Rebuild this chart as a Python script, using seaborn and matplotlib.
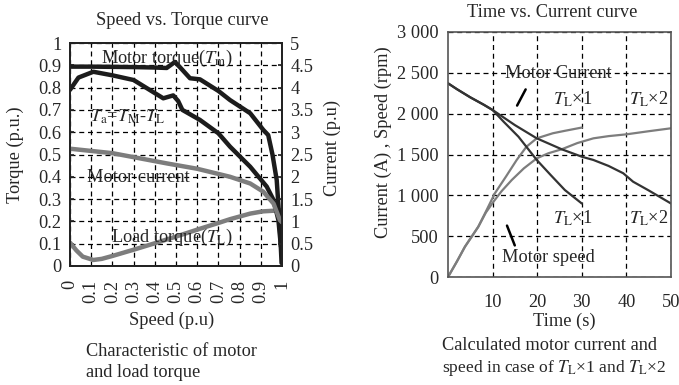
import numpy as np
import matplotlib
matplotlib.use("Agg")
import matplotlib.pyplot as plt
import seaborn as sns

# Left chart: speed vs torque / current (p.u.)
speed_tm = [0, 0.1, 0.2, 0.3, 0.4, 0.456, 0.495, 0.52, 0.566, 0.613, 0.7, 0.755,
            0.85, 0.912, 0.935, 0.955, 0.975, 0.99, 0.998]
torque_tm = [0.894, 0.894, 0.893, 0.892, 0.89, 0.888, 0.915, 0.89, 0.842, 0.837, 0.785,
             0.744, 0.685, 0.61, 0.587, 0.5, 0.386, 0.176, 0.013]

speed_ta = [0, 0.04, 0.11, 0.2, 0.3, 0.44, 0.487, 0.51, 0.53, 0.613, 0.7, 0.755,
            0.85, 0.928, 0.96, 0.983, 0.995]
torque_ta = [0.79, 0.845, 0.871, 0.855, 0.834, 0.752, 0.765, 0.74, 0.70, 0.655, 0.595,
             0.535, 0.445, 0.356, 0.296, 0.206, 0.087]

speed_cur = [0, 0.2, 0.457, 0.6, 0.755, 0.85, 0.912, 0.96, 0.99, 1.0]
current_pu = [2.63, 2.53, 2.3, 2.18, 2.0, 1.85, 1.665, 1.4, 1.03, 0.98]

speed_tl = [0, 0.03, 0.06, 0.11, 0.15, 0.2, 0.3, 0.4, 0.5, 0.613, 0.7, 0.755, 0.85, 0.91, 1.0]
torque_tl = [0.105, 0.07, 0.042, 0.027, 0.032, 0.045, 0.073, 0.102, 0.132, 0.167, 0.193,
             0.21, 0.235, 0.245, 0.25]

# Right chart: time vs current / speed
time_cur1 = [0, 2, 5, 8, 10, 12.5, 15.8, 19.9, 23, 26.2, 30]
cur1 = [2372, 2300, 2200, 2110, 2045, 1900, 1718, 1433, 1250, 1065, 900]
time_cur2 = [0, 2, 5, 8, 10, 15, 19.9, 25.5, 30, 32.6, 36, 39.3, 41.5, 45, 50]
cur2 = [2372, 2300, 2200, 2110, 2045, 1860, 1698, 1564, 1473, 1433, 1360, 1270, 1167, 1060, 900]

time_spd1 = [0, 2, 3.8, 6.8, 8.3, 10.5, 13, 15.4, 17.6, 19.9, 23.5, 26.2, 30]
spd1 = [0, 190, 371, 616, 780, 1024, 1230, 1433, 1596, 1698, 1760, 1790, 1830]
time_spd2 = [0, 2, 3.8, 6.8, 8.5, 10.2, 12, 14.3, 17, 19.9, 22.5, 25.5, 29, 32.6, 36, 40, 45, 50]
spd2 = [0, 190, 371, 616, 790, 922, 1050, 1188, 1330, 1453, 1515, 1564, 1640, 1698, 1725,
        1747, 1785, 1821]

sns.set_theme(style="white")
plt.rcParams['font.family'] = ['Liberation Serif', 'DejaVu Serif']
plt.rcParams['mathtext.fontset'] = 'stix'
FS = 13.2

W, H = 679, 385
fig = plt.figure(figsize=(W / 100, H / 100), dpi=100)


def pos(x, y):
    return x / W, 1 - y / H


dash = (0, (4, 3))
black = '#1c1c1c'
gray = '#7d7d7d'

# ---------------- left chart ----------------
ax1 = fig.add_axes([70 / W, 1 - 266 / H, 212 / W, 223 / H])
ax1.set_xlim(0, 1)
ax1.set_ylim(0, 1)
ax1.set_xticks(np.arange(0, 1.01, 0.1))
ax1.set_xticklabels(['{:g}'.format(round(v, 1)) for v in np.arange(0, 1.01, 0.1)], rotation=90)
ax1.set_yticks(np.arange(0, 1.01, 0.1))
ax1.set_yticklabels(['{:g}'.format(round(v, 1)) for v in np.arange(0, 1.01, 0.1)])
ax1.grid(True, linestyle=dash, color='black', linewidth=0.9)
ax1.tick_params(direction='in', length=3, labelsize=FS, pad=6)
ax1.tick_params(axis='x', pad=10)
for s in ax1.spines.values():
    s.set_color('#222222')
    s.set_linewidth(1.3)

sns.lineplot(x=speed_tl, y=torque_tl, ax=ax1, color=gray, linewidth=3.2, sort=False, estimator=None)
sns.lineplot(x=speed_ta, y=torque_ta, ax=ax1, color=black, linewidth=3.2, sort=False, estimator=None)
sns.lineplot(x=speed_tm, y=torque_tm, ax=ax1, color=black, linewidth=3.2, sort=False, estimator=None)
ax1.set_xlabel('')
ax1.set_ylabel('')

ax1b = ax1.twinx()
ax1b.set_ylim(0, 5)
ax1b.set_yticks(np.arange(0, 5.01, 0.5))
ax1b.set_yticklabels(['{:g}'.format(v) for v in np.arange(0, 5.01, 0.5)])
ax1b.tick_params(direction='in', length=3, labelsize=FS, pad=6)
ax1b.grid(False)
sns.lineplot(x=speed_cur, y=current_pu, ax=ax1b, color=gray, linewidth=3.2, sort=False, estimator=None)
ax1b.set_ylabel('')
for s in ax1b.spines.values():
    s.set_color('#222222')
    s.set_linewidth(1.3)

ax1.text(0.458, 0.93, r'Motor torque($T_\mathrm{m}$)', fontsize=FS, ha='center', va='center')
ax1.text(0.274, 0.668, r'$T_\mathrm{a}$=$T_\mathrm{M}$-$T_\mathrm{L}$', fontsize=FS, ha='center', va='center')
ax1.text(0.322, 0.395, 'Motor current', fontsize=FS, ha='center', va='center')
ax1.text(0.48, 0.128, r'Load torque($T_\mathrm{L}$)', fontsize=FS, ha='center', va='center')

fig.text(*pos(182, 25), 'Speed vs. Torque curve', fontsize=FS, ha='center', va='baseline')
fig.text(*pos(15, 155), 'Torque (p.u.)', fontsize=FS, ha='center', va='center', rotation=90)
fig.text(*pos(332, 148), 'Current (p.u)', fontsize=FS, ha='center', va='center', rotation=90)
fig.text(*pos(172, 325), 'Speed (p.u)', fontsize=FS, ha='center', va='baseline')
fig.text(*pos(86, 356), 'Characteristic of motor', fontsize=FS, ha='left', va='baseline')
fig.text(*pos(86, 377), 'and load torque', fontsize=FS, ha='left', va='baseline')

# ---------------- right chart ----------------
ax2 = fig.add_axes([448 / W, 1 - 277 / H, 223 / W, 245 / H])
ax2.set_xlim(0, 50)
ax2.set_ylim(0, 3000)
ax2.set_xticks([10, 20, 30, 40, 50])
ax2.set_yticks(np.arange(0, 3001, 500))
ax2.set_yticklabels(['{:,}'.format(v).replace(',', ' ') for v in range(0, 3001, 500)])
ax2.grid(True, linestyle=dash, color='black', linewidth=0.9)
ax2.tick_params(direction='in', length=3, labelsize=FS, pad=7)
ax2.tick_params(axis='x', pad=12)
for s in ax2.spines.values():
    s.set_color('#555555')
    s.set_linewidth(1.2)

sns.lineplot(x=time_spd1, y=spd1, ax=ax2, color=gray, linewidth=1.6, sort=False, estimator=None)
sns.lineplot(x=time_spd2, y=spd2, ax=ax2, color=gray, linewidth=1.6, sort=False, estimator=None)
sns.lineplot(x=time_cur1, y=cur1, ax=ax2, color='#333333', linewidth=1.6, sort=False, estimator=None)
sns.lineplot(x=time_cur2, y=cur2, ax=ax2, color='#333333', linewidth=1.6, sort=False, estimator=None)
ax2.set_xlabel('')
ax2.set_ylabel('')

ax2.text(24.7, 2486, 'Motor Current', fontsize=FS, ha='center', va='center')
ax2.text(28.0, 2180, r'$T_\mathrm{L}$×1', fontsize=FS, ha='center', va='center')
ax2.text(45.1, 2180, r'$T_\mathrm{L}$×2', fontsize=FS, ha='center', va='center')
ax2.text(28.0, 722, r'$T_\mathrm{L}$×1', fontsize=FS, ha='center', va='center')
ax2.text(45.1, 722, r'$T_\mathrm{L}$×2', fontsize=FS, ha='center', va='center')
ax2.text(22.4, 233, 'Motor speed', fontsize=FS, ha='center', va='center')
ax2.annotate('', xy=(15.2, 2069), xytext=(17.7, 2327),
             arrowprops=dict(arrowstyle='-', color='black', lw=1.8))
ax2.annotate('', xy=(15.2, 355), xytext=(13.0, 661),
             arrowprops=dict(arrowstyle='-', color='black', lw=1.8))

fig.text(*pos(552, 17), 'Time vs. Current curve', fontsize=FS, ha='center', va='baseline')
fig.text(*pos(383, 142), 'Current (A) , Speed (rpm)', fontsize=FS, ha='center', va='center', rotation=90)
fig.text(*pos(564, 326), 'Time (s)', fontsize=FS, ha='center', va='baseline')
fig.text(*pos(442, 350), 'Calculated motor current and', fontsize=FS, ha='left', va='baseline')
fig.text(*pos(442, 372), r'speed in case of $T_\mathrm{L}$×1 and $T_\mathrm{L}$×2', fontsize=FS - 0.6,
         ha='left', va='baseline')

fig.savefig('out.png', dpi=100)
